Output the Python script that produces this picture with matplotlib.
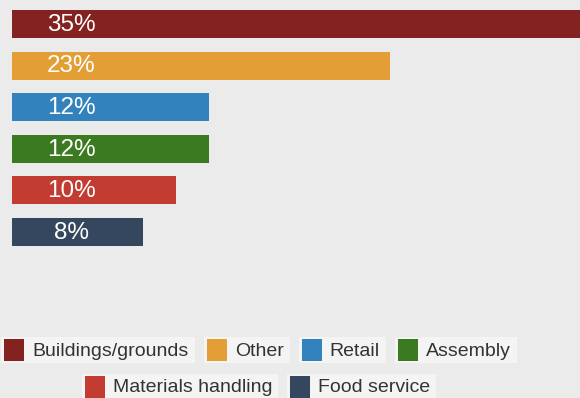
import matplotlib
matplotlib.use("Agg")
import matplotlib.pyplot as plt
from matplotlib.patches import Rectangle

categories = ["Buildings/grounds", "Other", "Retail", "Assembly", "Materials handling", "Food service"]
values = [35, 23, 12, 12, 10, 8]
labels = ["35%", "23%", "12%", "12%", "10%", "8%"]
colors = ["#842220", "#e39f35", "#3283bd", "#3b7a21", "#c23c31", "#35475f"]

W, H = 580, 398
BG = "#ebebeb"
plt.rcParams["font.family"] = ["Liberation Sans", "DejaVu Sans"]

fig = plt.figure(figsize=(W / 100, H / 100), dpi=100, facecolor=BG)

# bar axes: 0 at x=12px, 1% = 16.43 px
left_px = 12
px_per = 16.43
ax = fig.add_axes([left_px / W, 1 - 252.8 / H, (W - left_px) / W, 249.6 / H])
ax.set_facecolor("none")
ypos = list(range(len(values)))
ax.barh(ypos, values, height=0.673, color=colors, edgecolor="none")
ax.set_xlim(0, (W - left_px) / px_per)
ax.set_ylim(len(values) - 0.5, -0.5)
for y, lab in zip(ypos, labels):
    ax.text(3.6, y + 0.02, lab, color="white", fontsize=17.5, ha="center", va="center")
ax.axis("off")

# legend drawn in pixel coordinates
lax = fig.add_axes([0, 0, 1, 1])
lax.set_xlim(0, W)
lax.set_ylim(H, 0)
lax.axis("off")
lax.set_facecolor("none")

fig.canvas.draw()
renderer = fig.canvas.get_renderer()
LFS = 14

def text_w(s):
    t = lax.text(0, 0, s, fontsize=LFS)
    w = t.get_window_extent(renderer).width
    t.remove()
    return w

rows = [[0, 1, 2, 3], [4, 5]]
row_y = [350, 387]
center_x = 259
pad_l, sw, gap_t, pad_r, item_gap = 3, 20, 8, 6, 9
for r, idxs in enumerate(rows):
    widths = [pad_l + sw + gap_t + text_w(categories[i]) + pad_r for i in idxs]
    total = sum(widths) + item_gap * (len(idxs) - 1)
    x = center_x - total / 2
    cy = row_y[r]
    for i, w in zip(idxs, widths):
        lax.add_patch(Rectangle((x, cy - 13), w, 26, facecolor="#f4f4f4", edgecolor="none"))
        lax.add_patch(Rectangle((x + pad_l, cy - 11), sw, 22, facecolor=colors[i], edgecolor="none"))
        lax.text(x + pad_l + sw + gap_t, cy + 1, categories[i], fontsize=LFS, color="#333333",
                 ha="left", va="center")
        x += w + item_gap

fig.savefig("out.png", dpi=100, facecolor=BG)
